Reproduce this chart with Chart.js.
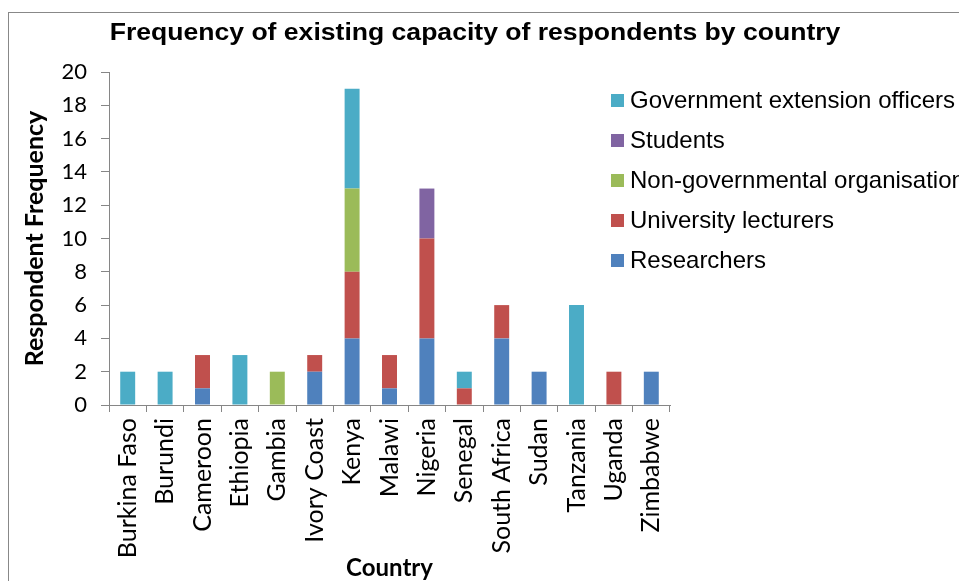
<!DOCTYPE html>
<html>
<head>
<meta charset="utf-8">
<script src="https://cdn.jsdelivr.net/npm/chart.js@4.4.0/dist/chart.umd.min.js"></script>
<style>
    html, body { margin: 0; padding: 0; background: #ffffff; }
    #wrap { width: 959px; height: 581px; position: relative; overflow: hidden; }
</style>
</head>
<body>
<div id="wrap"><canvas id="chart" width="959" height="581"></canvas></div>
<script>
// Data
const countries = ['Burkina Faso', 'Burundi', 'Cameroon', 'Ethiopia', 'Gambia', 'Ivory Coast', 'Kenya',
    'Malawi', 'Nigeria', 'Senegal', 'South Africa', 'Sudan', 'Tanzania', 'Uganda', 'Zimbabwe'];

const researchers     = [0, 0, 1, 0, 0, 2, 4, 1, 4, 0, 4, 2, 0, 0, 2];
const lecturers       = [0, 0, 2, 0, 0, 1, 4, 2, 6, 1, 2, 0, 0, 2, 0];
const ngos            = [0, 0, 0, 0, 2, 0, 5, 0, 0, 0, 0, 0, 0, 0, 0];
const students        = [0, 0, 0, 0, 0, 0, 0, 0, 3, 0, 0, 0, 0, 0, 0];
const govOfficers     = [2, 2, 0, 3, 0, 0, 6, 0, 0, 1, 0, 0, 6, 0, 0];

const yTicks = [0, 2, 4, 6, 8, 10, 12, 14, 16, 18, 20];

const seriesNames = ['Researchers', 'University lecturers', 'Non-governmental organisations', 'Students', 'Government extension officers'];
const seriesColors = ['#4F81BD', '#C0504D', '#9BBB59', '#8064A2', '#4BACC6'];
const seriesValues = [researchers, lecturers, ngos, students, govOfficers];

const axisColor = '#868686';

// Title, frame and legend drawn onto the canvas
const decorPlugin = {
    id: 'decor',
    afterDraw(chart) {
        const ctx = chart.ctx;
        ctx.save();
        ctx.strokeStyle = '#888888';
        ctx.lineWidth = 1;
        ctx.strokeRect(8.5, 12.5, 1200, 1200);

        // title is a little wider than plain Arial bold
        ctx.save();
        ctx.translate(475, 34);
        ctx.scale(1.155, 1);
        ctx.fillStyle = '#000000';
        ctx.font = 'bold 23px "Liberation Sans", Arial, sans-serif';
        ctx.textAlign = 'center';
        ctx.textBaseline = 'middle';
        ctx.fillText('Frequency of existing capacity of respondents by country', 0, 0);
        ctx.restore();

        // legend, top item is last series
        ctx.font = '24px "Liberation Sans", Arial, sans-serif';
        ctx.textAlign = 'left';
        ctx.textBaseline = 'middle';
        for (let i = 0; i < seriesNames.length; i++) {
            const idx = seriesNames.length - 1 - i;
            const y = 100 + i * 40;
            ctx.fillStyle = seriesColors[idx];
            ctx.fillRect(611, y - 6, 13, 13);
            ctx.fillStyle = '#000000';
            ctx.fillText(seriesNames[idx], 630, y + 1);
        }
        ctx.restore();
    }
};

const ctx = document.getElementById('chart').getContext('2d');
new Chart(ctx, {
    type: 'bar',
    data: {
        labels: countries,
        datasets: seriesNames.map((name, i) => ({
            label: name,
            data: seriesValues[i],
            backgroundColor: seriesColors[i],
            borderWidth: 0,
            categoryPercentage: 1,
            barPercentage: 0.4
        }))
    },
    options: {
        responsive: false,
        animation: false,
        layout: { padding: { left: 0, top: 72, right: 289, bottom: 0 } },
        plugins: {
            legend: { display: false },
            title: { display: false },
            tooltip: { enabled: false }
        },
        scales: {
            x: {
                stacked: true,
                grid: { drawOnChartArea: false, drawTicks: true, tickLength: 7, color: axisColor, offset: true },
                border: { color: axisColor },
                ticks: { color: '#000000', font: { family: 'Lato', size: 25 }, minRotation: 90, maxRotation: 90, padding: 6, autoSkip: false },
                title: {
                    display: true, text: 'Country', color: '#000000',
                    font: { family: 'Lato', size: 24, weight: 'bold' },
                    padding: { top: 0, bottom: -2 }
                },
                afterFit(scale) { scale.height = 581 - 405; }
            },
            y: {
                stacked: true,
                min: 0,
                max: 20,
                afterBuildTicks(scale) { scale.ticks = yTicks.map(v => ({ value: v })); },
                grid: { drawOnChartArea: false, drawTicks: true, tickLength: 8, color: axisColor },
                border: { color: axisColor },
                ticks: { color: '#000000', font: { family: 'Lato', size: 22 }, padding: 14 },
                title: {
                    display: true, text: 'Respondent Frequency', color: '#000000',
                    font: { family: 'Lato', size: 25, weight: 'bold' },
                    padding: { top: 20, bottom: 0 }
                },
                afterFit(scale) { scale.width = 109; }
            }
        }
    },
    plugins: [decorPlugin]
});
</script>
</body>
</html>
